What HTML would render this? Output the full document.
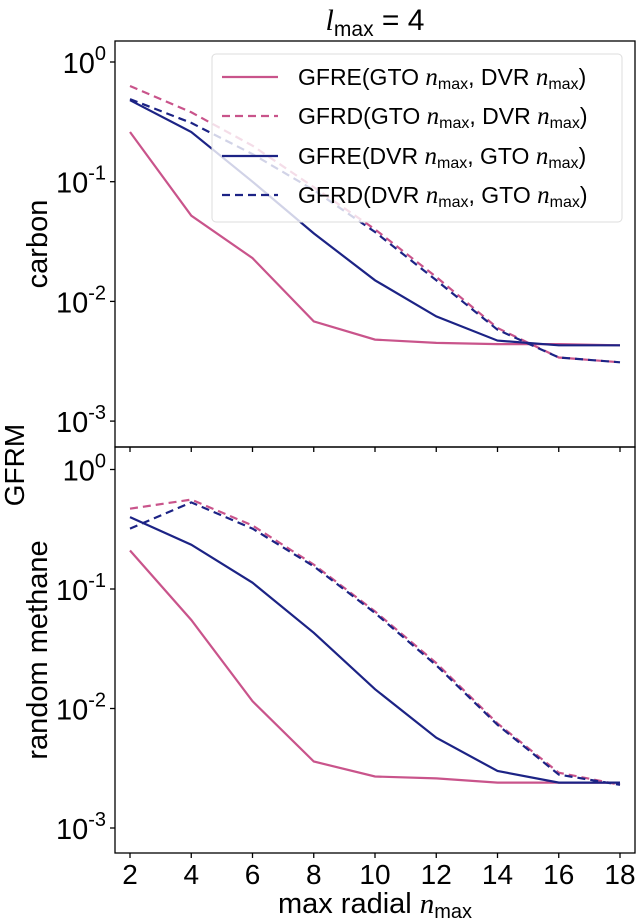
<!DOCTYPE html>
<html><head><meta charset="utf-8"><style>
html,body{margin:0;padding:0;background:#fff;}
svg{display:block;font-family:"Liberation Sans","DejaVu Sans",sans-serif;}
</style></head><body>
<svg id="chart" width="636" height="921" viewBox="0 0 636 921" xmlns="http://www.w3.org/2000/svg">
<text x="375" y="30" font-size="30" text-anchor="middle"><tspan font-family="Liberation Serif" font-style="italic">l</tspan><tspan font-size="21" dy="6">max</tspan><tspan dy="-6"> = 4</tspan></text>
<text transform="translate(24,465) rotate(-90)" font-size="28" text-anchor="middle">GFRM</text>
<text x="375" y="913" font-size="29" text-anchor="middle">max radial <tspan font-family="Liberation Serif" font-style="italic">n</tspan><tspan font-size="20" dy="5">max</tspan></text>
<g id="panels"></g>
</svg>
<script>
const categories=[2,4,6,8,10,12,14,16,18];
const yTickLabels=["0","-1","-2","-3"];
const xTickLabels=["2","4","6","8","10","12","14","16","18"];
const carbonGfreGto=[0.26,0.052,0.023,0.0068,0.0048,0.0045,0.0044,0.0044,0.0043];
const carbonGfrdGto=[0.63,0.38,0.2,0.09,0.04,0.016,0.006,0.0034,0.0031];
const carbonGfreDvr=[0.48,0.26,0.1,0.037,0.015,0.0075,0.0047,0.0043,0.0043];
const carbonGfrdDvr=[0.49,0.31,0.17,0.085,0.038,0.015,0.0058,0.0034,0.0031];
const methaneGfreGto=[0.21,0.055,0.0115,0.0036,0.0027,0.0026,0.0024,0.0024,0.0024];
const methaneGfrdGto=[0.47,0.56,0.34,0.16,0.065,0.024,0.0075,0.0029,0.0023];
const methaneGfreDvr=[0.40,0.235,0.113,0.043,0.0145,0.0057,0.003,0.0024,0.0024];
const methaneGfrdDvr=[0.32,0.53,0.32,0.155,0.063,0.023,0.0073,0.0028,0.0023];

const NS="http://www.w3.org/2000/svg";
const PINK="#c9548b",BLUE="#1c2385";
const X0=115,X1=635;
function xs(v){return 130+(v-2)*(490/16);}
function mk(tag,attrs,parent){const e=document.createElementNS(NS,tag);for(const k in attrs)e.setAttribute(k,attrs[k]);parent.appendChild(e);return e;}
const root=document.getElementById('panels');
const panels=[
 {name:'carbon',top:41,bot:447,y0:62,dec:119.7,label:'carbon',series:[carbonGfreGto,carbonGfrdGto,carbonGfreDvr,carbonGfrdDvr],legend:true},
 {name:'methane',top:447,bot:853,y0:469.5,dec:119.5,label:'random methane',series:[methaneGfreGto,methaneGfrdGto,methaneGfreDvr,methaneGfrdDvr],legend:false}
];
const styles=[{c:PINK,d:null},{c:PINK,d:"8,5"},{c:BLUE,d:null},{c:BLUE,d:"8,5"}];
const sNames=['gfre-gto','gfrd-gto','gfre-dvr','gfrd-dvr'];
panels.forEach(p=>{
  const g=mk('g',{},root);
  
  
  const ys=v=>p.y0-Math.log10(v)*p.dec;
  const lab=mk('text',{transform:`translate(47,${(p.top+p.bot)/2}) rotate(-90)`,'font-size':29,'text-anchor':'middle'},g);
  lab.textContent=p.label;
  
  
  yTickLabels.forEach((t,i)=>{
    const y=ys(Math.pow(10,-i));
    const tk=mk('line',{x1:X0-5,x2:X0,y1:y,y2:y,stroke:'#000','stroke-width':1.3},g);
    
    
    const tx=mk('text',{x:X0-9,y:y+11,'font-size':29,'text-anchor':'end'},g);
    
    
    tx.innerHTML=`10<tspan font-size="20" dy="-13">${t}</tspan>`;
  });
  categories.forEach((c,i)=>{
    const x=xs(c);
    const tk=mk('line',{x1:x,x2:x,y1:p.bot,y2:p.bot+5,stroke:'#000','stroke-width':1.3},g);
    
    
    if(p.name==='methane'){
      const tx=mk('text',{x:x,y:p.bot+31,'font-size':28,'text-anchor':'middle'},g);
      tx.textContent=xTickLabels[i];
      
      
    }
  });
  p.series.forEach((s,k)=>{
    const pts=s.map((v,i)=>xs(categories[i]).toFixed(1)+','+ys(v).toFixed(1)).join(' ');
    const a={points:pts,fill:'none',stroke:styles[k].c,'stroke-width':2.2};
    if(styles[k].d)a['stroke-dasharray']=styles[k].d;
    const pl=mk('polyline',a,g);
    
    
  });
  const fr=mk('rect',{x:X0,y:p.top,width:X1-X0,height:p.bot-p.top,fill:'none',stroke:'#000','stroke-width':1.3},g);
  
  
  if(p.legend){
    const lg=mk('g',{},g);
    
    
    mk('rect',{x:212,y:54,width:410,height:168,rx:4,fill:'#fff','fill-opacity':0.8,stroke:'#ddd','stroke-width':1},lg);
    const lbl=[['GFRE(GTO ','DVR '],['GFRD(GTO ','DVR '],['GFRE(DVR ','GTO '],['GFRD(DVR ','GTO ']];
    [77,116,156,195].forEach((y,k)=>{
      const e=mk('g',{},lg);
      
      
      const a={x1:222,x2:278,y1:y,y2:y,stroke:styles[k].c,'stroke-width':2.2};
      if(styles[k].d)a['stroke-dasharray']=styles[k].d;
      mk('line',a,e);
      const t=mk('text',{x:298,y:y+8,'font-size':23},e);
      t.innerHTML=`${lbl[k][0]}<tspan font-family="Liberation Serif" font-style="italic" font-size="25">n</tspan><tspan font-size="16" dy="4">max</tspan><tspan dy="-4">, ${lbl[k][1]}</tspan><tspan font-family="Liberation Serif" font-style="italic" font-size="25">n</tspan><tspan font-size="16" dy="4">max</tspan><tspan dy="-4">)</tspan>`;
    });
  }
});
</script>
</body></html>
